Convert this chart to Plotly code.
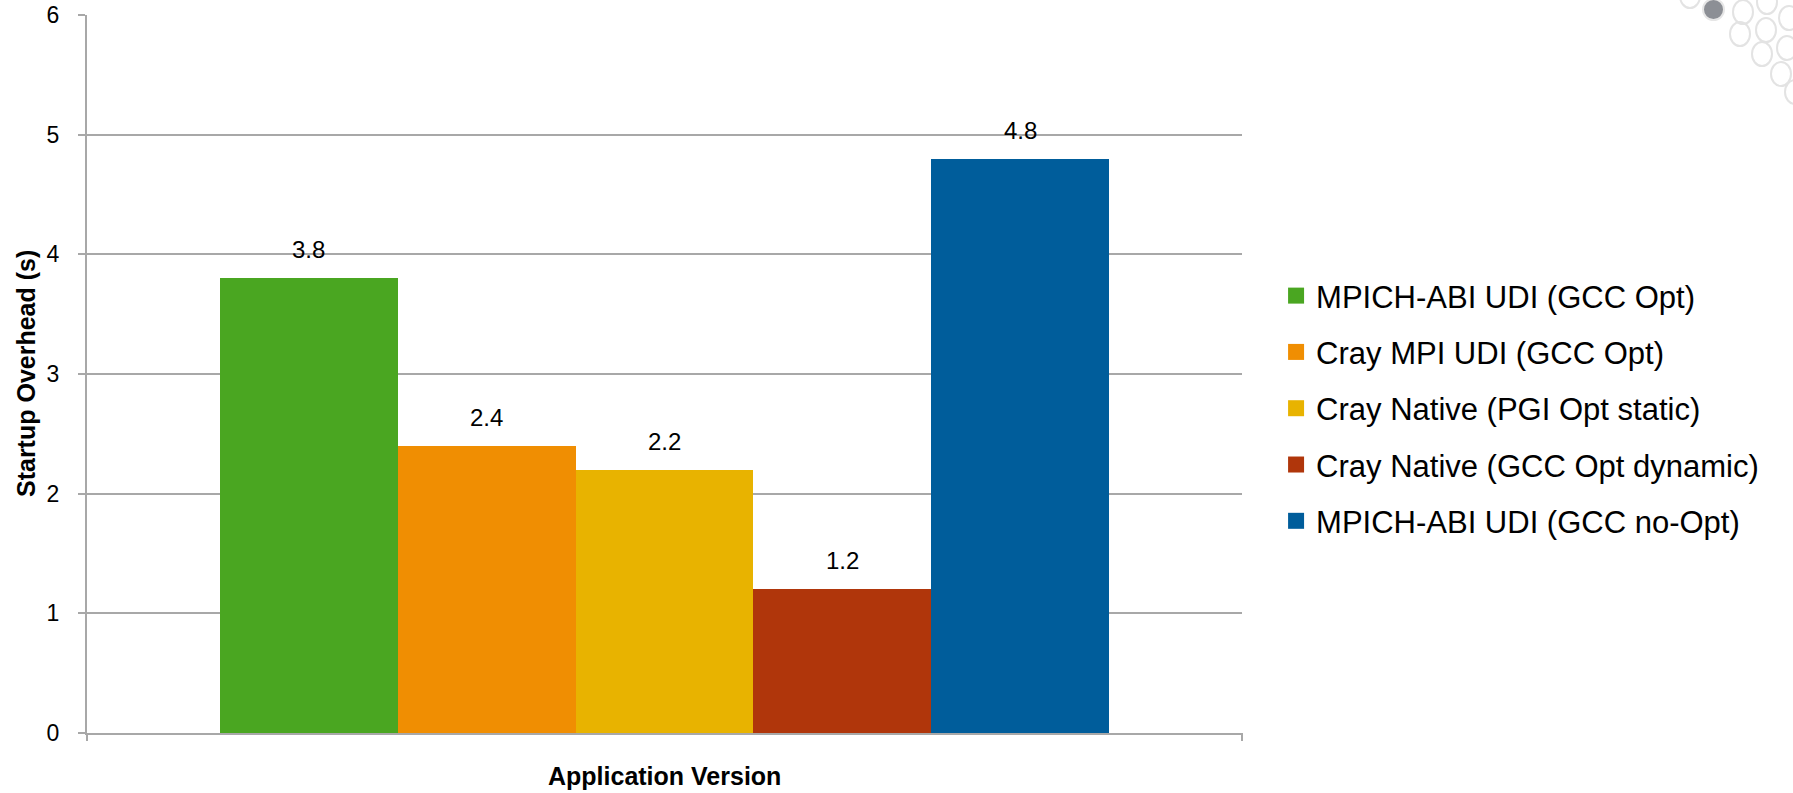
import plotly.graph_objects as go

# ---- data ----
series_names = [
    "MPICH-ABI UDI (GCC Opt)",
    "Cray MPI UDI (GCC Opt)",
    "Cray Native (PGI Opt static)",
    "Cray Native (GCC Opt dynamic)",
    "MPICH-ABI UDI (GCC no-Opt)",
]
values = [3.8, 2.4, 2.2, 1.2, 4.8]
colors = ["#4aa621", "#f08e02", "#e8b300", "#b0360b", "#005d9b"]
x_title = "Application Version"
y_title = "Startup Overhead (s)"
y_ticks = [0, 1, 2, 3, 4, 5, 6]

FONT = "Liberation Sans, Arial, sans-serif"
GRID = "#a8a8a8"

fig = go.Figure()

for i, (name, v, c) in enumerate(zip(series_names, values, colors)):
    fig.add_trace(go.Bar(
        x=[name], y=[v], name=name,
        marker=dict(color=c, line=dict(width=0)),
        showlegend=False,
        hoverinfo="y+name",
    ))
    # legend entry with a larger square swatch
    fig.add_trace(go.Scatter(
        x=[None], y=[None], mode="markers", name=name,
        legendgroup=f"g{i}",
        marker=dict(symbol="square", size=16, color=c),
        showlegend=True,
    ))
    fig.add_annotation(
        x=name, y=v, text=f"{v:.1f}", showarrow=False,
        yanchor="bottom", yshift=13,
        font=dict(family=FONT, size=24, color="#000000"),
    )

# axis titles
fig.add_annotation(
    xref="paper", yref="paper", x=-0.0528, y=0.5, text=f"<b>{y_title}</b>",
    textangle=-90, showarrow=False, xanchor="center", yanchor="middle",
    font=dict(family=FONT, size=25, color="#000000"),
)
fig.add_annotation(
    xref="paper", yref="paper", x=0.5, y=-0.06, text=f"<b>{x_title}</b>",
    showarrow=False, xanchor="center", yanchor="middle",
    font=dict(family=FONT, size=25, color="#000000"),
)

# category-boundary ticks on the x axis
for xp in (0, 1):
    fig.add_shape(type="line", xref="paper", yref="paper",
                  x0=xp, x1=xp, y0=0, y1=-0.011,
                  line=dict(color=GRID, width=2))

# decorative template dots (top right)
outline_dots = [(1743, 12), (1767, 2), (1740, 34), (1766, 30), (1789, 18),
                (1762, 54), (1787, 48), (1781, 74), (1795, 92), (1690, -4)]
def px2paper(px, py):
    return (px - 87) / 1155, (733 - py) / 718
for cx, cy in outline_dots:
    x0, y0 = px2paper(cx - 10, cy - 12)
    x1, y1 = px2paper(cx + 10, cy + 12)
    fig.add_shape(type="circle", xref="paper", yref="paper",
                  x0=x0, x1=x1, y0=y0, y1=y1,
                  line=dict(color="#e3e3e3", width=2), fillcolor="rgba(0,0,0,0)",
                  layer="below")
x0, y0 = px2paper(1703, -1)
x1, y1 = px2paper(1724, 20)
fig.add_shape(type="circle", xref="paper", yref="paper",
              x0=x0, x1=x1, y0=y0, y1=y1,
              line=dict(color="#e6e6e6", width=2), fillcolor="#8c8f95")

fig.update_layout(
    width=1793, height=793,
    margin=dict(l=87, r=551, t=15, b=60, pad=0, autoexpand=False),
    paper_bgcolor="white", plot_bgcolor="white",
    barmode="group", bargap=0.0,
    font=dict(family=FONT, color="#000000"),
    showlegend=True,
    legend=dict(
        x=1.0295, xanchor="left", y=0.452, yanchor="middle",
        font=dict(family=FONT, size=31, color="#000000"),
        tracegroupgap=13, bgcolor="rgba(0,0,0,0)",
        itemclick=False,
    ),
    xaxis=dict(
        range=[-1.248, 5.248], showticklabels=False, ticks="",
        showgrid=False, zeroline=False, automargin=False,
        showline=True, linecolor=GRID, linewidth=2,
        fixedrange=True,
    ),
    yaxis=dict(
        range=[0, 6], tickvals=y_ticks, automargin=False,
        ticks="outside", ticklen=7, tickwidth=2, tickcolor=GRID,
        showline=True, linecolor=GRID, linewidth=2,
        showgrid=True, gridcolor=GRID, gridwidth=1.5,
        zeroline=False, ticklabelstandoff=14,
        tickfont=dict(family=FONT, size=23, color="#000000"),
    ),
)

fig.write_html("out.html")
